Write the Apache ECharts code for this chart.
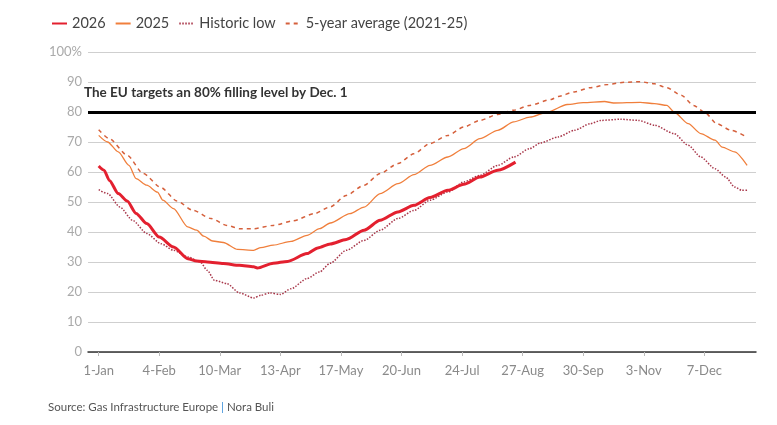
<!DOCTYPE html>
<html>
<head>
<meta charset="utf-8">
<script src="https://cdn.jsdelivr.net/npm/echarts@6/dist/echarts.min.js"></script>
<style>
html,body{margin:0;padding:0;background:#fff;}
#chart{width:777px;height:425px;}
</style>
</head>
<body>
<div id="chart"></div>
<script>
// Day-of-year index (0 = 1-Jan) and storage filling level (%)
var tickDays = [0, 34, 68, 102, 136, 170, 204, 238, 272, 306, 340];
var tickLabels = ['1-Jan', '4-Feb', '10-Mar', '13-Apr', '17-May', '20-Jun', '24-Jul', '27-Aug', '30-Sep', '3-Nov', '7-Dec'];

var days2026 = [0,3,6,11,16,21,27,34,42,50,55,61,70,79,87,89,98,106,117,123,130,139,149,158,168,177,186,196,205,214,224,234];
var vals2026 = [62,60.6,57.2,52.8,50.3,46.2,42.8,38.3,35,31.1,30.3,30,29.5,28.9,28.4,28,29.6,30.2,32.8,34.7,36,37.5,40.6,43.9,46.7,48.9,51.5,53.9,55.9,58.3,60.6,63.3];

var days2025 = [0,5,11,17,21,27,33,36,42,50,55,59,64,70,78,87,91,98,108,117,124,130,141,149,158,168,177,186,196,205,214,224,233,242,252,263,272,284,289,304,312,319,323,331,338,346,350,357,364];
var vals2025 = [72.2,70,66.7,62.2,57.8,55.6,53.3,50.6,47.8,41.7,40.6,38.6,37,36.5,34.2,33.9,34.8,35.6,36.9,38.9,41.1,43,46.1,48.3,52.8,56.1,59.1,62.2,65,67.8,71.1,73.9,76.7,78.3,80,82.5,83.1,83.5,83,83.2,82.8,82.2,80,76.1,72.8,70.6,68.3,66.7,62.2];

var daysLow = [0,5,12,19,27,35,42,50,57,61,65,72,79,87,91,96,102,108,117,124,130,139,149,158,168,177,186,196,205,214,224,233,242,248,258,267,276,282,293,303,312,323,331,338,346,352,357,361,364];
var valsLow = [54.1,52.8,48.3,43.9,39.5,36.1,33.9,31.7,30,27.2,23.9,22.8,19.7,18,18.9,19.7,19.2,21.1,24.5,26.7,29.6,33.9,37.2,40.6,44.5,47.2,50.6,53.3,56.7,58.9,62.2,65,67.8,69.7,71.7,73.9,76.1,77.2,77.6,77.2,75.6,72.8,68.9,65,61.1,58.3,55,53.9,53.9];

var daysAvg = [0,6,16,25,35,44,53,63,72,79,87,98,109,121,130,139,149,158,168,177,186,196,205,214,224,233,242,254,258,267,276,286,295,304,312,319,327,334,340,347,355,364];
var valsAvg = [74.1,71.1,65.6,59.5,54.8,50.3,47.2,44.5,42.2,41.1,41.1,42.2,43.7,46.1,48.4,52.2,55.6,59.5,62.8,66.1,69.5,72.2,75,77.2,79.2,80.6,82.2,84.2,85.2,86.7,88.1,89.2,89.9,90.1,89.4,88.1,85.6,82.2,80,76.1,73.9,71.6];

var targetLevel = 80;
var targetText = 'The EU targets an 80% filling level by Dec. 1';

function zip(d, v) { return d.map(function (x, i) { return [x, v[i]]; }); }

var FONT = 'Lato';
var common = {type: 'line', symbol: 'none', smooth: 0.25, smoothMonotone: 'x'};
function line(name, data, lineStyle, z) {
  return Object.assign({name: name, data: data, lineStyle: lineStyle, itemStyle: {color: lineStyle.color}, z: z}, common);
}
var chart = echarts.init(document.getElementById('chart'), null, {renderer: 'canvas'});
var s2026 = line('2026', zip(days2026, vals2026), {color: '#e3202f', width: 3}, 5);
s2026.markLine = {
  silent: true, symbol: ['none', 'none'],
  lineStyle: {color: '#000', width: 3, type: 'solid'},
  label: {show: false},
  data: [{yAxis: targetLevel}]
};
chart.setOption({
  animation: false,
  textStyle: {fontFamily: FONT},
  legend: {
    left: 46, top: 11,
    itemWidth: 15, itemHeight: 12, itemGap: 9,
    itemStyle: {opacity: 0, borderWidth: 0},
    textStyle: {fontSize: 14.5, color: '#444', fontFamily: FONT},
    data: ['2026', '2025', 'Historic low', '5-year average (2021-25)']
  },
  grid: {left: 88, right: 21, top: 52, bottom: 73, containLabel: false},
  xAxis: {
    type: 'value', min: -6, max: 369,
    axisLine: {show: true, onZero: false, lineStyle: {color: '#333', width: 1.5}},
    axisTick: {show: true, customValues: tickDays, length: 4, lineStyle: {color: '#bbb'}},
    axisLabel: {
      customValues: tickDays, color: '#8a8a8a', fontSize: 13, margin: 12,
      formatter: function (v) { var i = tickDays.indexOf(v); return i >= 0 ? tickLabels[i] : ''; }
    },
    splitLine: {show: false}
  },
  yAxis: {
    type: 'value', min: 0, max: 100, interval: 10,
    axisLine: {show: false}, axisTick: {show: false},
    axisLabel: {color: '#aaa', fontSize: 13, margin: 6,
      formatter: function (v) { return v === 100 ? '100%' : String(v); }},
    splitLine: {lineStyle: {color: '#cfcfcf', width: 1}}
  },
  series: [
    line('5-year average (2021-25)', zip(daysAvg, valsAvg), {color: '#d5603c', width: 1.5, type: [4, 4]}, 2),
    line('Historic low', zip(daysLow, valsLow), {color: '#a8374a', width: 1.5, type: [1.5, 1.5]}, 3),
    line('2025', zip(days2025, vals2025), {color: '#f07f3c', width: 1.3}, 4),
    s2026
  ],
  graphic: [
    {type: 'text', left: 84, top: 86, z: 10,
      style: {text: targetText, font: 'bold 13.5px ' + FONT, fill: '#333'}},
    {type: 'text', left: 48, top: 401,
      style: {
        text: '{a|Source: Gas Infrastructure Europe }{b||}{a| Nora Buli}',
        rich: {
          a: {fontFamily: FONT, fontSize: 11.5, fill: '#555'},
          b: {fontFamily: FONT, fontSize: 11.5, fill: '#3b8fd9'}
        }
      }}
  ]
});
</script>
</body>
</html>
